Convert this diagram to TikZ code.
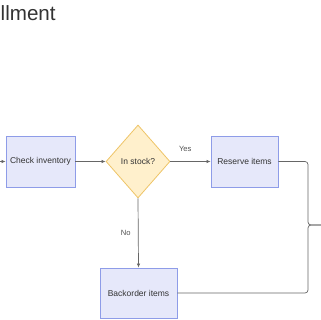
\documentclass[tikz,border=0pt]{standalone}
\usepackage{fontspec}
\setmainfont{Liberation Sans}
\usetikzlibrary{shapes.geometric,arrows.meta}
\definecolor{boxfill}{HTML}{E6E8FA}
\definecolor{boxdraw}{HTML}{8E9CE8}
\definecolor{dfill}{HTML}{FFF0CC}
\definecolor{ddraw}{HTML}{EEC466}
\definecolor{lin}{HTML}{666666}
\definecolor{txt}{HTML}{333333}
\begin{document}
\begin{tikzpicture}[x=1pt,y=-1pt,
  procbox/.style={draw=boxdraw,fill=boxfill,line width=0.8pt,minimum width=#1,minimum height=51pt,inner sep=0pt,font=\fontsize{8.5}{10}\selectfont,text=txt},
  decision/.style={diamond,draw=ddraw,fill=dfill,line width=0.8pt,minimum width=64pt,minimum height=73pt,inner sep=0pt,font=\fontsize{8.5}{10}\selectfont,text=txt},
  conn/.style={draw=lin,line width=0.7pt},
  arr/.style={conn,-{Latex[length=4pt,width=3.5pt]}},
  lbl/.style={font=\fontsize{7.6}{9}\selectfont,text=txt!85}]
\useasboundingbox (0,0) rectangle (320,320);
\node[anchor=base west,font=\fontsize{20.6}{24}\selectfont,text=txt,inner sep=0pt] (title) at (0.5,21) {llment};
\node[procbox=69pt] (check) at (40.5,161.5) {Check inventory};
\node[decision] (stock) at (138,161.5) {In stock?};
\node[procbox=67pt] (reserve) at (244.5,161.5) {Reserve items};
\node[procbox=77pt,minimum height=50pt] (back) at (138.5,293) {Backorder items};
\coordinate (in) at (-5,161.5);
\coordinate (m) at (308,225);
\coordinate (out) at (325,225);
\draw[arr] (in) -- (check.west);
\draw[arr] (check.east) -- (stock.west);
\draw[arr] (stock.east) -- node[lbl,above=6pt,pos=0.37]{Yes} (reserve.west);
\draw[arr] (stock.south) -- node[lbl,left=4pt,pos=0.5]{No} (back.north);
\draw[conn,rounded corners=3pt] (reserve.east) -| (m) -- (out);
\draw[conn,rounded corners=3pt] (back.east) -| (m) -- (out);
\end{tikzpicture}
\end{document}
